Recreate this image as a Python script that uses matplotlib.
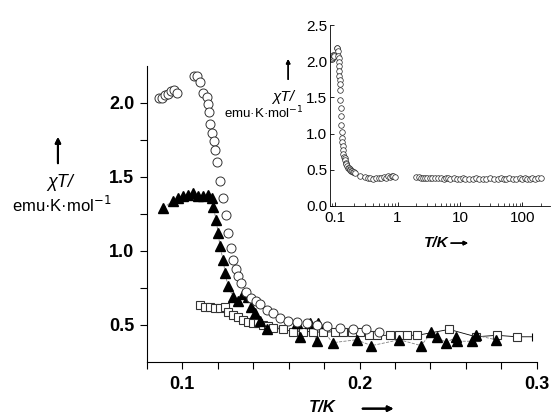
import matplotlib.pyplot as plt
import numpy as np

plt.rcParams['font.family'] = ['Liberation Sans', 'DejaVu Sans']

# open circles (main panel)
circ_T = [0.0871, 0.0888, 0.0904, 0.0921, 0.0938, 0.0955, 0.0972, 0.1067, 0.1084, 0.1101,
          0.1118, 0.1140, 0.1146, 0.1152, 0.1157, 0.1169, 0.1180, 0.1185, 0.1197, 0.1213,
          0.1230, 0.1247, 0.1258, 0.1275, 0.1287, 0.1303, 0.1315, 0.1331, 0.1360, 0.1388,
          0.1416, 0.1438, 0.1478, 0.1511, 0.1551, 0.1596, 0.1646, 0.1702, 0.1758, 0.1815,
          0.1888, 0.1961, 0.2039, 0.2112]
circ_v = [2.03, 2.03, 2.05, 2.06, 2.08, 2.09, 2.07, 2.18, 2.18, 2.14,
          2.07, 2.04, 1.99, 1.94, 1.86, 1.80, 1.74, 1.68, 1.60, 1.47,
          1.36, 1.24, 1.12, 1.02, 0.94, 0.88, 0.83, 0.78, 0.72, 0.68,
          0.66, 0.64, 0.60, 0.58, 0.55, 0.53, 0.52, 0.51, 0.50, 0.49,
          0.48, 0.47, 0.47, 0.45]

# filled triangles
tri_T = [0.0893, 0.0949, 0.0978, 0.1006, 0.1034, 0.1062, 0.1090, 0.1118, 0.1146, 0.1169,
         0.1174, 0.1191, 0.1202, 0.1213, 0.1230, 0.1242, 0.1258, 0.1287, 0.1315, 0.1343,
         0.1371, 0.1388, 0.1410, 0.1438, 0.1478, 0.1646, 0.1663, 0.1719, 0.1758, 0.1764,
         0.1848, 0.1983, 0.2067, 0.2225, 0.2348, 0.2404, 0.2438, 0.2489, 0.2545, 0.2551,
         0.2635, 0.2657, 0.2770]
tri_v = [1.29, 1.34, 1.36, 1.37, 1.38, 1.39, 1.37, 1.37, 1.38, 1.36,
         1.30, 1.21, 1.12, 1.03, 0.94, 0.85, 0.76, 0.69, 0.66, 0.71,
         0.69, 0.62, 0.58, 0.53, 0.47, 0.51, 0.42, 0.51, 0.39, 0.51,
         0.38, 0.40, 0.36, 0.40, 0.36, 0.45, 0.42, 0.38, 0.42, 0.39,
         0.39, 0.43, 0.40]

# open squares
sq_T = [0.1101, 0.1129, 0.1157, 0.1185, 0.1213, 0.1242, 0.1258, 0.1287, 0.1315, 0.1343,
        0.1371, 0.1399, 0.1427, 0.1455, 0.1483, 0.1511, 0.1567, 0.1624, 0.1680, 0.1736,
        0.1792, 0.1860, 0.1904, 0.1955, 0.2000, 0.2056, 0.2101, 0.2169, 0.2225, 0.2270,
        0.2326, 0.2506, 0.2657, 0.2775, 0.2888]
sq_v = [0.635, 0.62, 0.62, 0.615, 0.615, 0.62, 0.59, 0.57, 0.555, 0.535,
        0.52, 0.51, 0.51, 0.50, 0.49, 0.48, 0.47, 0.455, 0.455, 0.455,
        0.45, 0.455, 0.455, 0.45, 0.45, 0.43, 0.43, 0.43, 0.43, 0.43,
        0.43, 0.47, 0.42, 0.43, 0.42]
sq_end_T = 0.297
sq_end_v = 0.42

# inset: extra points above the main-panel range
ins_T = [0.25, 0.3, 0.33, 0.36, 0.4, 0.45, 0.5, 0.55, 0.6, 0.65, 0.7, 0.75, 0.8, 0.85, 0.9,
         2.0, 2.2, 2.4, 2.6, 2.8, 3.0, 3.3, 3.6, 4.0, 4.5, 5.0, 5.5, 6.0, 6.5, 7.0, 8.0, 9.0,
         10, 11, 12, 14, 16, 18, 20, 23, 26, 30, 35, 40, 45, 50, 55, 60, 70, 80, 90,
         100, 110, 120, 130, 140, 160, 180, 200]
ins_v = [0.42, 0.40, 0.39, 0.38, 0.37, 0.38, 0.39, 0.38, 0.40, 0.39, 0.41, 0.40, 0.42, 0.41, 0.40,
         0.40, 0.40, 0.39, 0.39, 0.39, 0.38, 0.39, 0.38, 0.38, 0.38, 0.38, 0.37, 0.38, 0.38, 0.37, 0.38, 0.37,
         0.37, 0.38, 0.37, 0.37, 0.37, 0.38, 0.37, 0.37, 0.37, 0.38, 0.37, 0.37, 0.38, 0.37, 0.37, 0.38, 0.37, 0.37, 0.38,
         0.37, 0.38, 0.37, 0.37, 0.38, 0.37, 0.38, 0.38]

fig = plt.figure(figsize=(5.52, 4.17), dpi=100)
ax = fig.add_axes([0.266, 0.132, 0.7065, 0.71])

ax.plot(sq_T + [sq_end_T], sq_v + [sq_end_v], color='black', lw=0.6, zorder=1)
ax.plot(tri_T, tri_v, color='gray', lw=0.6, ls='--', zorder=1)
ax.plot(sq_T, sq_v, ls='none', marker='s', ms=6, mfc='white', mec='#333333', mew=0.8, zorder=2)
ax.plot(tri_T, tri_v, ls='none', marker='^', ms=7, mfc='black', mec='black', zorder=3)
ax.plot(circ_T, circ_v, ls='none', marker='o', ms=6.5, mfc='white', mec='#333333', mew=0.7, zorder=4)
ax.plot([sq_end_T], [sq_end_v], ls='none', marker='|', ms=6, color='black', mew=0.8)

ax.set_xlim(0.08, 0.3)
ax.set_ylim(0.25, 2.25)
ax.set_xticks([0.1, 0.2, 0.3])
ax.set_xticks(np.arange(0.08, 0.301, 0.02), minor=True)
ax.set_yticks([0.5, 1.0, 1.5, 2.0])
ax.set_yticks([0.75, 1.25, 1.75], minor=True)
ax.set_xticklabels(['0.1', '0.2', '0.3'], fontweight='bold', fontsize=13)
ax.set_yticklabels(['0.5', '1.0', '1.5', '2.0'], fontweight='bold', fontsize=13)
ax.tick_params(which='both', direction='out', length=5, width=0.8)
ax.tick_params(axis='x', pad=5)
ax.tick_params(axis='y', pad=4)
ax.spines['top'].set_visible(False)
ax.spines['right'].set_visible(False)

# main axis labels
arrow = dict(arrowstyle='-|>', color='black', lw=1.5, mutation_scale=8)
fig.add_artist(plt.annotate('', xy=(0.105, 0.678), xytext=(0.105, 0.602),
                            xycoords='figure fraction', arrowprops=arrow))
fig.text(0.109, 0.562, '\u03c7T/', fontsize=13, style='italic', ha='center', va='center')
fig.text(0.112, 0.509, 'emu\u00b7K\u00b7mol$^{-1}$', fontsize=12, ha='center', va='center')
fig.text(0.583, 0.022, 'T/K', fontsize=12, fontweight='bold', style='italic', ha='center', va='center')
fig.add_artist(plt.annotate('', xy=(0.718, 0.02), xytext=(0.652, 0.02),
                            xycoords='figure fraction', arrowprops=arrow))

# inset
ins = fig.add_axes([0.598, 0.506, 0.399, 0.434])
ins.plot(circ_T + ins_T, circ_v + ins_v, ls='none', marker='o', ms=4, mfc='white',
         mec='#222222', mew=0.5)
ins.set_xscale('log')
ins.set_xlim(0.083, 280)
ins.set_ylim(0, 2.5)
ins.set_xticks([0.1, 1, 10, 100])
ins.set_xticklabels(['0.1', '1', '10', '100'], fontsize=11)
ins.set_yticks([0.0, 0.5, 1.0, 1.5, 2.0, 2.5])
ins.set_yticklabels(['0.0', '0.5', '1.0', '1.5', '2.0', '2.5'], fontsize=11)
ins.tick_params(which='major', direction='in', length=3, width=0.6)
ins.tick_params(which='minor', direction='in', length=2, width=0.5)
ins.tick_params(axis='y', pad=2)
ins.spines['top'].set_visible(False)
ins.spines['right'].set_visible(False)
for s in ins.spines.values():
    s.set_linewidth(0.6)

small_arrow = dict(arrowstyle='-|>', color='black', lw=1.0, mutation_scale=6)
fig.add_artist(plt.annotate('', xy=(0.522, 0.865), xytext=(0.522, 0.803),
                            xycoords='figure fraction', arrowprops=small_arrow))
fig.text(0.512, 0.767, '\u03c7T/', fontsize=11, style='italic', ha='center', va='center')
fig.text(0.478, 0.729, 'emu\u00b7K\u00b7mol$^{-1}$', fontsize=9.5, ha='center', va='center')
fig.text(0.79, 0.417, 'T/K', fontsize=11, fontweight='bold', style='italic', ha='center', va='center')
fig.add_artist(plt.annotate('', xy=(0.853, 0.417), xytext=(0.812, 0.417),
                            xycoords='figure fraction', arrowprops=small_arrow))

fig.savefig('out.png', dpi=100)
